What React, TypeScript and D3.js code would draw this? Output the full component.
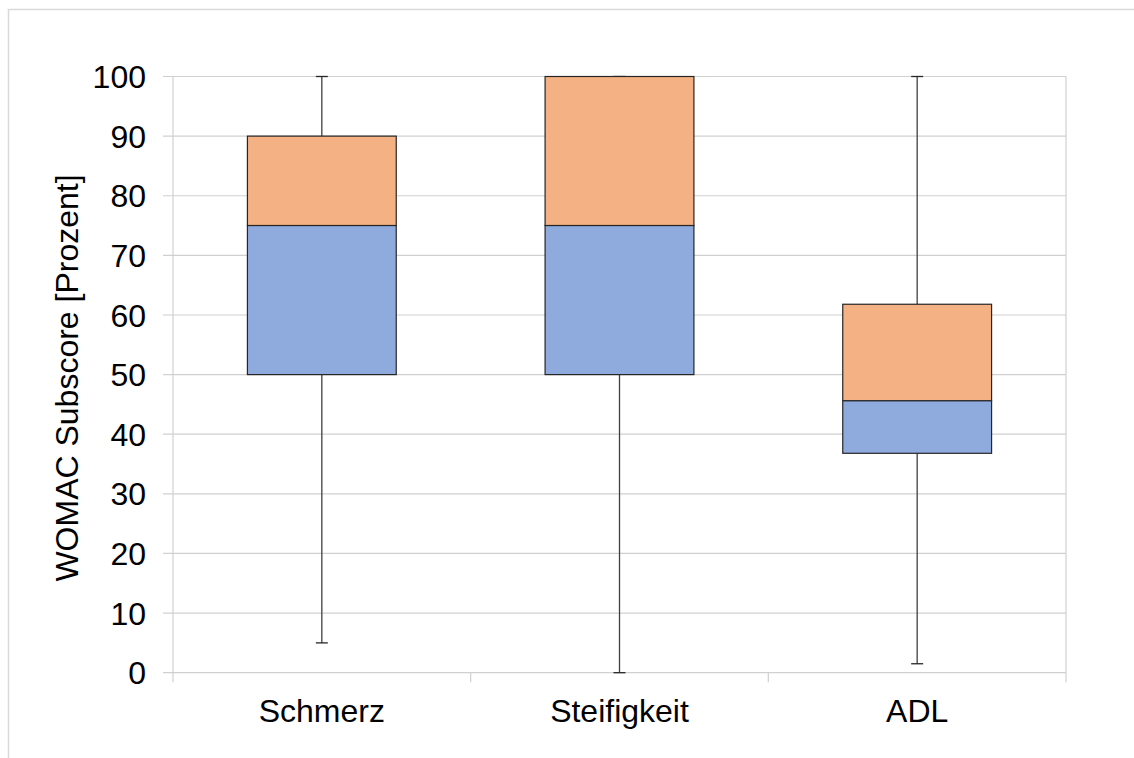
import React from "react";
import * as d3 from "d3";

const categories = ["Schmerz", "Steifigkeit", "ADL"];
const minVals = [5, 0, 1.5];
const q1Vals = [50, 50, 36.8];
const medianVals = [75, 75, 45.6];
const q3Vals = [90, 100, 61.8];
const maxVals = [100, 100, 100];
const yTicks = [0, 10, 20, 30, 40, 50, 60, 70, 80, 90, 100];
const yLabel = "WOMAC Subscore [Prozent]";

const W = 1134;
const H = 758;
const left = 173;
const right = 1066;
const top = 76.5;
const bottom = 672.7;
const font = "'Liberation Sans', Arial, sans-serif";
const fs = 32;

export default function App() {
  const x = d3.scaleBand<string>().domain(categories).range([left, right]).padding(0);
  const y = d3.scaleLinear().domain([0, 100]).range([bottom, top]);
  const bw = x.bandwidth();
  const boxW = bw * 0.5;
  const capW = 12;
  const gridColor = "#D0D0D0";
  const boundaries = [left, ...categories.map((c) => (x(c) as number) + bw)];

  return (
    <svg
      width={W}
      height={H}
      style={{ position: "absolute", left: 0, top: 0, background: "#fff" }}
    >
      <rect x={8.5} y={9.5} width={1140} height={760} fill="#fff" stroke="#D9D9D9" strokeWidth={1.5} />
      {yTicks.map((t) => (
        <line key={"g" + t} x1={163} x2={right} y1={y(t)} y2={y(t)} stroke={gridColor} strokeWidth={1.2} />
      ))}
      {boundaries.map((b, i) => (
        <line
          key={"v" + i}
          x1={b}
          x2={b}
          y1={i === 0 || i === boundaries.length - 1 ? top : bottom}
          y2={bottom + 9.5}
          stroke={gridColor}
          strokeWidth={1.2}
        />
      ))}
      {yTicks.map((t) => (
        <text
          key={"t" + t}
          x={146}
          y={y(t)}
          dy="0.36em"
          textAnchor="end"
          fontFamily={font}
          fontSize={fs}
          fill="#000"
        >
          {t}
        </text>
      ))}
      {categories.map((c) => (
        <text
          key={"c" + c}
          x={(x(c) as number) + bw / 2}
          y={722}
          textAnchor="middle"
          fontFamily={font}
          fontSize={fs}
          fill="#000"
        >
          {c}
        </text>
      ))}
      <text
        transform={`translate(78, 378) rotate(-90)`}
        textAnchor="middle"
        fontFamily={font}
        fontSize={fs}
        fill="#000"
      >
        {yLabel}
      </text>
      {categories.map((c, i) => {
        const cx = (x(c) as number) + bw / 2;
        const bx = cx - boxW / 2;
        return (
          <g key={"b" + c}>
            <line x1={cx} x2={cx} y1={y(maxVals[i])} y2={y(q3Vals[i])} stroke="#404040" strokeWidth={1.3} />
            <line x1={cx} x2={cx} y1={y(q1Vals[i])} y2={y(minVals[i])} stroke="#404040" strokeWidth={1.3} />
            <line x1={cx - capW / 2} x2={cx + capW / 2} y1={y(maxVals[i])} y2={y(maxVals[i])} stroke="#262626" strokeWidth={1.3} />
            <line x1={cx - capW / 2} x2={cx + capW / 2} y1={y(minVals[i])} y2={y(minVals[i])} stroke="#262626" strokeWidth={1.3} />
            <rect
              x={bx}
              y={y(q3Vals[i])}
              width={boxW}
              height={y(medianVals[i]) - y(q3Vals[i])}
              fill="#F4B183"
              stroke="#262626"
              strokeWidth={1.2}
            />
            <rect
              x={bx}
              y={y(medianVals[i])}
              width={boxW}
              height={y(q1Vals[i]) - y(medianVals[i])}
              fill="#8FAADC"
              stroke="#262626"
              strokeWidth={1.2}
            />
          </g>
        );
      })}
    </svg>
  );
}
